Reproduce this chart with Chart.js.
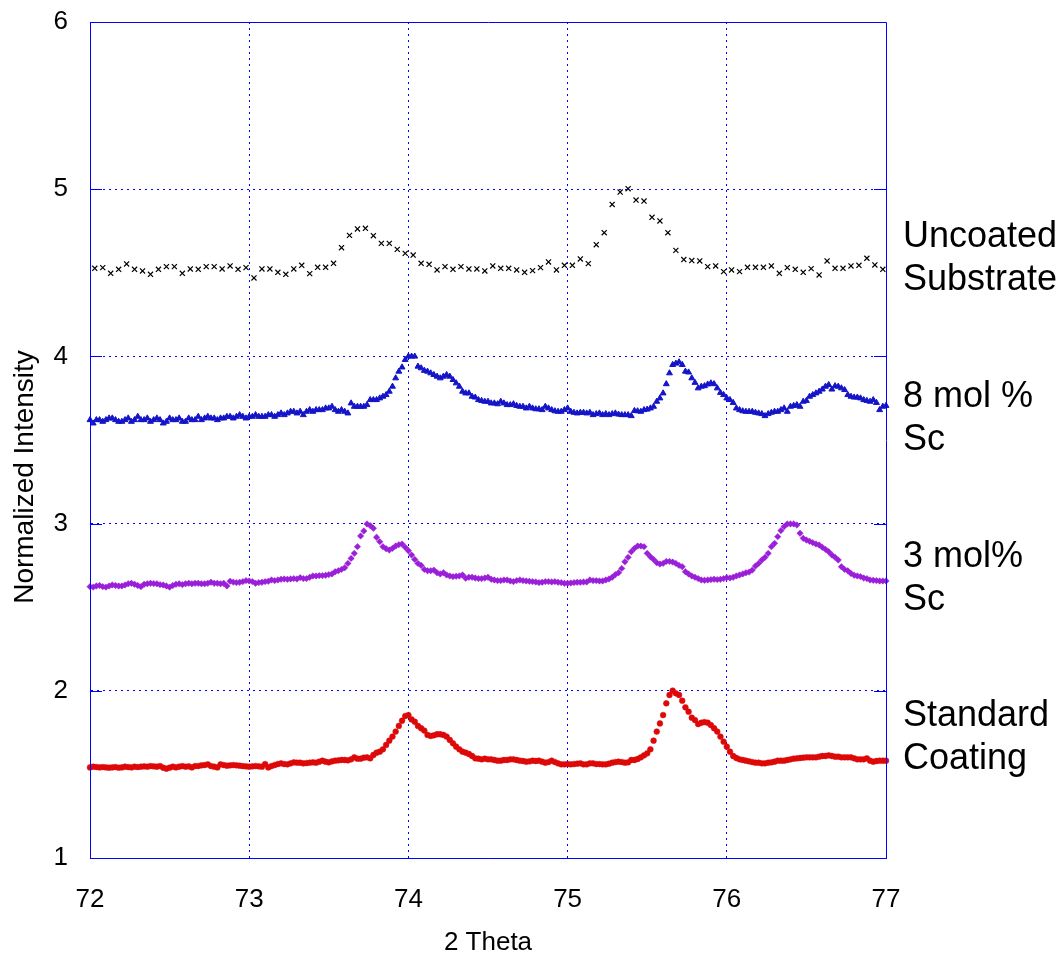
<!DOCTYPE html>
<html>
<head>
<meta charset="utf-8">
<title>XRD scans</title>
<script src="https://cdn.jsdelivr.net/npm/chart.js@4.4.0/dist/chart.umd.min.js"></script>
<style>
  html, body { margin: 0; padding: 0; background: #fff; }
  canvas { display: block; }
</style>
</head>
<body>
<canvas id="xrd" width="1062" height="955"></canvas>
<script>
// scan grids (2 theta, degrees)
const fineStart = 72.00, fineStep = 0.02, fineCount = 251;
const coarseStart = 72.03, coarseStep = 0.05, coarseCount = 100;

const seriesNames = ['Uncoated\nSubstrate', '8 mol %\nSc', '3 mol%\nSc', 'Standard\nCoating'];

// normalized intensity
const uncoated = [
  4.527,4.531,4.497,4.521,4.553,4.521,4.511,4.491,4.521,4.537,
  4.537,4.497,4.523,4.521,4.537,4.537,4.523,4.541,4.521,4.531,
  4.469,4.523,4.523,4.503,4.491,4.523,4.545,4.495,4.533,4.533,
  4.557,4.650,4.724,4.762,4.766,4.722,4.676,4.676,4.640,4.616,
  4.606,4.557,4.551,4.517,4.537,4.521,4.537,4.523,4.523,4.511,
  4.541,4.527,4.527,4.517,4.503,4.513,4.531,4.565,4.517,4.545,
  4.545,4.583,4.555,4.668,4.740,4.909,4.983,5.003,4.935,4.929,
  4.832,4.810,4.740,4.634,4.579,4.573,4.571,4.537,4.541,4.507,
  4.517,4.507,4.533,4.533,4.533,4.541,4.497,4.531,4.521,4.503,
  4.525,4.487,4.571,4.527,4.527,4.541,4.545,4.587,4.547,4.521
];

const sc8 = [
  3.62,3.60,3.62,3.62,3.61,3.62,3.63,3.63,3.62,3.61,
  3.61,3.62,3.63,3.61,3.62,3.64,3.62,3.62,3.63,3.61,
  3.62,3.63,3.62,3.60,3.61,3.63,3.62,3.62,3.63,3.61,
  3.61,3.63,3.62,3.62,3.64,3.62,3.63,3.64,3.63,3.63,
  3.62,3.63,3.63,3.64,3.64,3.63,3.64,3.65,3.64,3.63,
  3.64,3.64,3.65,3.64,3.64,3.64,3.65,3.65,3.64,3.65,
  3.66,3.65,3.66,3.67,3.67,3.66,3.67,3.65,3.67,3.68,
  3.67,3.68,3.68,3.68,3.69,3.69,3.70,3.68,3.67,3.68,
  3.67,3.66,3.72,3.70,3.70,3.70,3.70,3.71,3.74,3.74,
  3.74,3.75,3.76,3.77,3.79,3.82,3.87,3.91,3.935,3.98,
  4.00,4.00,4.00,3.94,3.93,3.915,3.91,3.90,3.89,3.88,
  3.87,3.88,3.89,3.88,3.86,3.84,3.82,3.79,3.78,3.78,
  3.76,3.755,3.74,3.735,3.73,3.73,3.72,3.72,3.715,3.73,
  3.72,3.71,3.71,3.715,3.705,3.70,3.70,3.69,3.70,3.69,
  3.685,3.685,3.68,3.70,3.69,3.68,3.673,3.67,3.67,3.68,
  3.69,3.67,3.664,3.66,3.664,3.664,3.66,3.664,3.65,3.656,
  3.66,3.65,3.656,3.65,3.656,3.66,3.653,3.65,3.65,3.65,
  3.644,3.675,3.673,3.67,3.68,3.683,3.69,3.70,3.73,3.75,
  3.78,3.835,3.90,3.95,3.958,3.966,3.95,3.91,3.905,3.87,
  3.843,3.81,3.82,3.823,3.833,3.84,3.835,3.81,3.783,3.77,
  3.75,3.74,3.723,3.69,3.68,3.673,3.67,3.67,3.67,3.664,
  3.66,3.656,3.644,3.656,3.664,3.67,3.67,3.68,3.69,3.67,
  3.70,3.705,3.71,3.70,3.73,3.735,3.76,3.77,3.78,3.79,
  3.803,3.82,3.83,3.803,3.823,3.82,3.81,3.80,3.77,3.76,
  3.755,3.755,3.75,3.74,3.735,3.73,3.74,3.723,3.68,3.70,3.705
];

const sc3 = [
  2.623,2.620,2.627,2.630,2.623,2.620,2.627,2.633,2.630,2.627,
  2.627,2.633,2.640,2.643,2.637,2.630,2.623,2.637,2.640,2.643,
  2.641,2.640,2.635,2.633,2.627,2.620,2.630,2.637,2.640,2.635,
  2.640,2.643,2.640,2.643,2.643,2.640,2.640,2.643,2.649,2.643,
  2.643,2.640,2.643,2.627,2.655,2.650,2.647,2.649,2.653,2.659,
  2.657,2.653,2.643,2.647,2.649,2.653,2.655,2.663,2.659,2.663,
  2.667,2.669,2.667,2.669,2.671,2.669,2.677,2.671,2.671,2.679,
  2.687,2.687,2.689,2.689,2.691,2.695,2.699,2.712,2.718,2.726,
  2.736,2.762,2.792,2.822,2.862,2.926,2.956,2.998,2.988,2.972,
  2.918,2.892,2.862,2.850,2.842,2.852,2.866,2.874,2.878,2.858,
  2.838,2.812,2.786,2.762,2.750,2.726,2.718,2.718,2.722,2.706,
  2.699,2.706,2.693,2.687,2.683,2.685,2.687,2.693,2.673,2.679,
  2.679,2.675,2.671,2.671,2.675,2.679,2.667,2.663,2.659,2.659,
  2.663,2.663,2.657,2.653,2.659,2.663,2.659,2.657,2.655,2.653,
  2.651,2.647,2.649,2.653,2.653,2.651,2.653,2.649,2.647,2.643,
  2.643,2.645,2.647,2.649,2.649,2.651,2.651,2.663,2.659,2.659,
  2.657,2.657,2.663,2.669,2.679,2.695,2.706,2.732,2.772,2.798,
  2.832,2.852,2.866,2.866,2.862,2.822,2.802,2.786,2.766,2.758,
  2.762,2.774,2.774,2.770,2.762,2.750,2.742,2.712,2.699,2.687,
  2.679,2.671,2.663,2.661,2.663,2.665,2.667,2.665,2.667,2.671,
  2.677,2.675,2.679,2.687,2.693,2.699,2.706,2.710,2.722,2.746,
  2.762,2.782,2.798,2.822,2.862,2.882,2.922,2.958,2.982,2.998,
  2.998,2.998,2.992,2.942,2.912,2.902,2.894,2.886,2.878,2.872,
  2.858,2.846,2.832,2.812,2.798,2.782,2.742,2.726,2.718,2.702,
  2.691,2.687,2.683,2.675,2.671,2.663,2.661,2.659,2.657,2.657,2.657
];

const standard = [
  1.542,1.546,1.544,1.542,1.544,1.542,1.540,1.542,1.544,1.540,
  1.542,1.546,1.544,1.542,1.546,1.544,1.546,1.548,1.546,1.550,
  1.548,1.546,1.550,1.540,1.534,1.540,1.546,1.542,1.546,1.550,
  1.546,1.548,1.542,1.550,1.550,1.554,1.556,1.560,1.550,1.546,
  1.542,1.560,1.556,1.552,1.554,1.556,1.554,1.552,1.550,1.548,
  1.546,1.548,1.550,1.548,1.546,1.562,1.542,1.550,1.556,1.562,
  1.566,1.562,1.560,1.566,1.572,1.570,1.570,1.566,1.568,1.570,
  1.572,1.570,1.576,1.582,1.576,1.572,1.578,1.582,1.584,1.586,
  1.586,1.584,1.590,1.602,1.594,1.594,1.600,1.602,1.596,1.616,
  1.630,1.636,1.650,1.676,1.702,1.726,1.756,1.790,1.821,1.849,
  1.855,1.829,1.815,1.790,1.776,1.762,1.736,1.730,1.734,1.740,
  1.740,1.736,1.726,1.706,1.686,1.666,1.650,1.636,1.630,1.622,
  1.610,1.596,1.594,1.590,1.594,1.590,1.590,1.586,1.582,1.582,
  1.586,1.586,1.590,1.590,1.586,1.582,1.580,1.576,1.578,1.582,
  1.580,1.582,1.576,1.570,1.574,1.582,1.574,1.566,1.560,1.560,
  1.562,1.560,1.562,1.564,1.566,1.560,1.560,1.566,1.566,1.562,
  1.562,1.560,1.560,1.564,1.570,1.574,1.576,1.574,1.570,1.572,
  1.586,1.586,1.592,1.602,1.614,1.626,1.650,1.702,1.756,1.805,
  1.855,1.925,1.975,2.001,1.985,1.975,1.941,1.901,1.875,1.839,
  1.825,1.801,1.809,1.813,1.809,1.795,1.776,1.756,1.726,1.696,
  1.666,1.636,1.610,1.598,1.590,1.586,1.582,1.578,1.574,1.570,
  1.570,1.566,1.566,1.570,1.572,1.576,1.582,1.582,1.582,1.586,
  1.590,1.594,1.596,1.598,1.600,1.602,1.602,1.602,1.602,1.606,
  1.610,1.610,1.614,1.610,1.606,1.606,1.602,1.602,1.602,1.602,
  1.596,1.590,1.590,1.590,1.596,1.582,1.576,1.580,1.582,1.582,1.582
];

// where each series name sits on the right (in intensity units)
const labelLevels = [4.586, 3.629, 2.672, 1.718];

const fineTheta = [];
for (let i = 0; i < fineCount; i++) fineTheta.push(+(fineStart + i * fineStep).toFixed(2));
const coarseTheta = [];
for (let i = 0; i < coarseCount; i++) coarseTheta.push(+(coarseStart + i * coarseStep).toFixed(2));

const toPoints = (xs, ys) => ys.map((y, i) => ({ x: xs[i], y: y }));

Chart.defaults.font.family = '"Liberation Sans", Arial, sans-serif';
Chart.defaults.color = '#000';

const gridBlue = '#0000ff';
const axisBlue = '#0000ff';

// frame, inward ticks, y title and the series names on the right
const decorations = {
  id: 'decorations',
  afterDraw(chart) {
    const { ctx, chartArea: a, scales } = chart;
    ctx.save();
    ctx.strokeStyle = axisBlue;
    ctx.lineWidth = 1;
    ctx.beginPath();
    ctx.rect(a.left + 0.5, a.top + 0.5, a.right - a.left, a.bottom - a.top);
    ctx.stroke();

    // short solid ticks pointing into the plot
    ctx.beginPath();
    for (let v = 1; v <= 6; v++) {
      const py = Math.round(scales.y.getPixelForValue(v)) + 0.5;
      ctx.moveTo(a.left, py); ctx.lineTo(a.left + 12, py);
      ctx.moveTo(a.right, py); ctx.lineTo(a.right - 12, py);
    }
    ctx.stroke();

    ctx.fillStyle = '#000';
    ctx.font = '28px "Liberation Sans", Arial, sans-serif';
    ctx.textAlign = 'center';
    ctx.textBaseline = 'middle';
    ctx.translate(25, 477);
    ctx.rotate(-Math.PI / 2);
    ctx.fillText('Normalized Intensity', 0, 0);
    ctx.setTransform(1, 0, 0, 1, 0, 0);

    ctx.font = '36px "Liberation Sans", Arial, sans-serif';
    ctx.textAlign = 'left';
    seriesNames.forEach((name, k) => {
      const mid = scales.y.getPixelForValue(labelLevels[k]);
      const lines = name.split('\n');
      lines.forEach((ln, j) => {
        ctx.fillText(ln, 903, mid + (j - (lines.length - 1) / 2) * 43);
      });
    });
    ctx.restore();
  }
};

const gridColor = (ctx) => {
  const v = ctx.tick ? ctx.tick.value : null;
  const s = ctx.scale;
  return (v === s.min || v === s.max) ? 'rgba(0,0,0,0)' : gridBlue;
};

new Chart(document.getElementById('xrd'), {
  type: 'scatter',
  data: {
    datasets: [
      {
        label: seriesNames[0],
        data: toPoints(coarseTheta, uncoated),
        pointStyle: 'crossRot',
        pointRadius: 3.6,
        borderColor: '#000',
        backgroundColor: '#000',
        borderWidth: 1.2
      },
      {
        label: seriesNames[1],
        data: toPoints(fineTheta, sc8),
        pointStyle: 'triangle',
        pointRadius: 3.4,
        borderColor: '#1414c8',
        backgroundColor: '#1414c8',
        borderWidth: 1
      },
      {
        label: seriesNames[2],
        data: toPoints(fineTheta, sc3),
        pointStyle: 'rectRot',
        pointRadius: 3.2,
        borderColor: '#9a1fd8',
        backgroundColor: '#9a1fd8',
        borderWidth: 0.5
      },
      {
        label: seriesNames[3],
        data: toPoints(fineTheta, standard),
        pointStyle: 'circle',
        pointRadius: 2.9,
        borderColor: '#dd0808',
        backgroundColor: '#dd0808',
        borderWidth: 0.5
      }
    ]
  },
  options: {
    responsive: false,
    animation: false,
    clip: false,
    layout: { padding: { left: 0, right: 176, top: 22, bottom: 0 } },
    plugins: {
      legend: { display: false },
      tooltip: { enabled: false }
    },
    scales: {
      x: {
        type: 'linear',
        min: 72,
        max: 77,
        afterFit: (s) => { s.height = 97; s.paddingLeft = 0; s.paddingRight = 0; },
        ticks: { stepSize: 1, padding: 26, font: { size: 26 }, color: '#000' },
        grid: { color: gridColor, lineWidth: 1, drawTicks: false },
        border: { display: true, color: axisBlue, width: 1, dash: [2, 4] },
        title: { display: true, text: '2 Theta', font: { size: 26 }, color: '#000', padding: { top: 0, bottom: -3 } }
      },
      y: {
        type: 'linear',
        min: 1,
        max: 6,
        afterFit: (s) => { s.width = 90; s.paddingTop = 0; s.paddingBottom = 0; },
        ticks: { stepSize: 1, padding: 22, font: { size: 26 }, color: '#000' },
        grid: { color: gridColor, lineWidth: 1, drawTicks: false },
        border: { display: true, color: axisBlue, width: 1, dash: [2, 4] }
      }
    }
  },
  plugins: [decorations]
});
</script>
</body>
</html>
